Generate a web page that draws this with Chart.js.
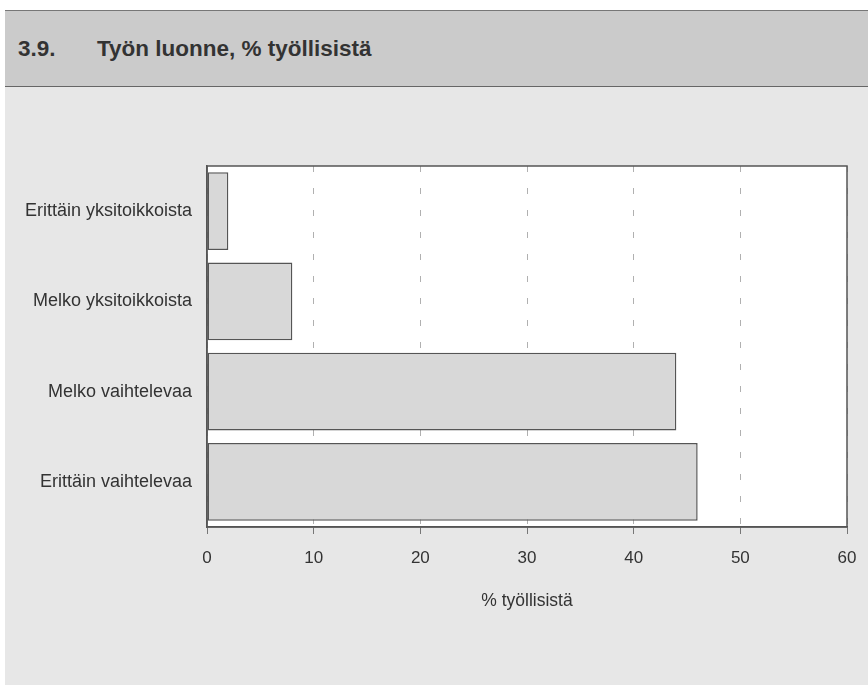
<!DOCTYPE html>
<html lang="fi">
<head>
<meta charset="utf-8">
<script src="https://cdn.jsdelivr.net/npm/chart.js@4/dist/chart.umd.min.js"></script>
<style>
  html, body { margin: 0; padding: 0; background: #fff; }
  body { width: 868px; height: 685px; position: relative; overflow: hidden; font-family: "Liberation Sans", Arial, sans-serif; }
  #panel { position: absolute; left: 5px; top: 10px; right: 0; bottom: 0; background: #e7e7e7; border-top: 1px solid #777; }
  #head { position: absolute; left: 0; top: 0; right: 0; height: 75px; background: #cbcbcb; border-bottom: 1px solid #666; }
  #head span { position: absolute; top: 25px; font-weight: bold; font-size: 22.5px; color: #333; }
  #wrap { position: absolute; left: 0; top: 0; width: 868px; height: 685px; }
</style>
</head>
<body>
<div id="panel">
  <div id="head"><span style="left:13px">3.9.</span><span style="left:92px">Työn luonne, % työllisistä</span></div>
</div>
<div id="wrap"><canvas id="c" width="868" height="685"></canvas></div>
<script>
(function () {
  'use strict';

  var categories = ['Erittäin yksitoikkoista', 'Melko yksitoikkoista', 'Melko vaihtelevaa', 'Erittäin vaihtelevaa'];
  var values = [2, 8, 44, 46];
  var xTicks = [0, 10, 20, 30, 40, 50, 60];

  var ink = '#333';
  var fam = '"Liberation Sans", Arial, sans-serif';

  // white plot area + frame
  var frame = {
    id: 'frame',
    beforeDraw: function (chart) {
      var a = chart.chartArea, ctx = chart.ctx;
      ctx.save();
      ctx.fillStyle = '#fff';
      ctx.fillRect(a.left, a.top, a.right - a.left, a.bottom - a.top);
      ctx.restore();
    },
    afterDraw: function (chart) {
      var a = chart.chartArea, ctx = chart.ctx;
      ctx.save();
      ctx.strokeStyle = '#555';
      ctx.lineWidth = 1.5;
      ctx.strokeRect(a.left, a.top, a.right - a.left, a.bottom - a.top);
      ctx.restore();
    }
  };

  new Chart(document.getElementById('c'), {
    type: 'bar',
    data: {
      labels: categories,
      datasets: [{
        data: values,
        backgroundColor: '#d8d8d8',
        borderColor: '#555',
        borderWidth: 1.5,
        borderSkipped: false,
        categoryPercentage: 1,
        barPercentage: 0.86
      }]
    },
    options: {
      indexAxis: 'y',
      responsive: false,
      animation: false,
      layout: { padding: { top: 166, right: 21, left: 0, bottom: 73 } },
      plugins: { legend: { display: false }, tooltip: { enabled: false } },
      scales: {
        x: {
          min: 0, max: 60,
          afterBuildTicks: function (s) { s.ticks = xTicks.map(function (v) { return { value: v }; }); },
          afterFit: function (s) { s.height = 685 - 73 - 527; s.paddingLeft = 0; s.paddingRight = 0; },
          grid: { color: '#b0b0b0', lineWidth: 1, tickLength: 7, tickColor: '#777', tickBorderDash: [] },
          border: { display: true, color: '#555', width: 1.5, dash: [6, 16] },
          ticks: { color: ink, font: { family: fam, size: 17 }, padding: 14 },
          title: { display: true, text: '% työllisistä', color: ink, font: { family: fam, size: 17.5 }, padding: { top: 0, bottom: 0 } }
        },
        y: {
          afterFit: function (s) { s.width = 207; },
          grid: { display: false },
          border: { display: true, color: '#555', width: 1.5 },
          ticks: { color: ink, font: { family: fam, size: 18 }, padding: 7 }
        }
      }
    },
    plugins: [frame]
  });
})();
</script>
</body>
</html>
